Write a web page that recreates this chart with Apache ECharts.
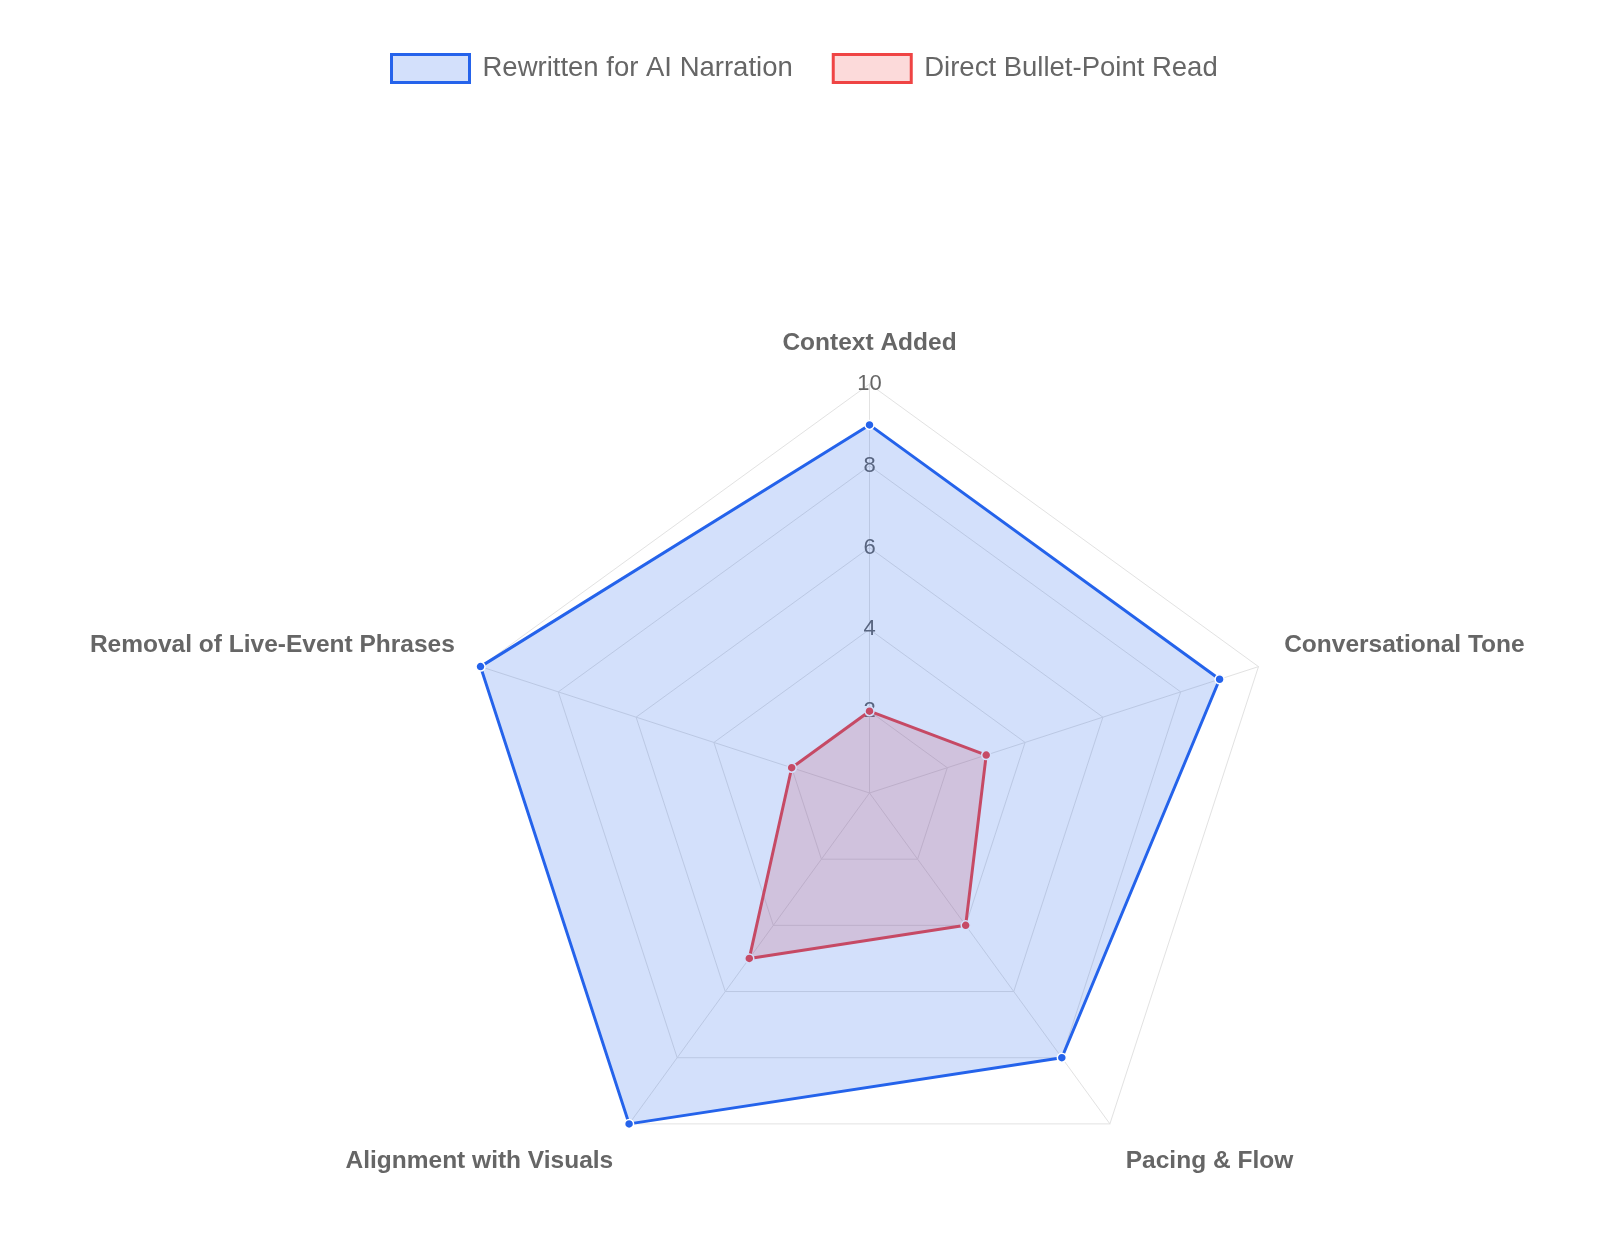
<!DOCTYPE html>
<html>
<head>
<meta charset="utf-8">
<script src="https://cdn.jsdelivr.net/npm/echarts@6/dist/echarts.min.js"></script>
<style>
html,body{margin:0;padding:0;background:#fff;}
#chart{width:1602px;height:1236px;}
</style>
</head>
<body>
<div id="chart"></div>
<script>
const categories = ['Context Added', 'Conversational Tone', 'Pacing & Flow', 'Alignment with Visuals', 'Removal of Live-Event Phrases'];
const rewrittenValues = [9, 9, 8, 10, 10];
const directValues = [2, 3, 4, 5, 2];
const seriesNames = ['Rewritten for AI Narration', 'Direct Bullet-Point Read'];
const axisMax = 10;
const tickInterval = 2;

const BLUE = '#2563eb', BLUE_FILL = 'rgba(37,99,235,0.2)';
const RED = '#ef4444', RED_FILL = 'rgba(239,68,68,0.2)';

// ECharts radar runs counter-clockwise; reorder so categories go clockwise from the top
const order = [0, 4, 3, 2, 1];
const labelShift = ['top', 'up', 'down', 'down', 'up'];
const FONT = 'Liberation Sans, Arial, sans-serif';
const NAME_SIZE = 24.5;

const chart = echarts.init(document.getElementById('chart'), null, {renderer: 'canvas'});
chart.setOption({
  backgroundColor: '#fff',
  animation: false,
  legend: {
    left: 390,
    top: 53,
    padding: 0,
    icon: 'rect',
    itemWidth: 78,
    itemHeight: 28,
    itemGap: 39,
    textStyle: {fontSize: 27.5, color: '#666', fontFamily: FONT, padding: [6, 0, 0, 8]},
    data: [
      {name: seriesNames[0], itemStyle: {color: BLUE_FILL, borderColor: BLUE, borderWidth: 3}},
      {name: seriesNames[1], itemStyle: {color: RED_FILL, borderColor: RED, borderWidth: 3}}
    ]
  },
  radar: {
    center: [869.5, 793],
    radius: 409,
    shape: 'polygon',
    splitNumber: axisMax / tickInterval,
    startAngle: 90,
    nameGap: 27,
    indicator: order.map(i => ({
      name: categories[i], min: 0, max: axisMax,
      nameGap: i === 0 ? 28 : 27,
      axisLabel: {show: i === 0}
    })),
    axisName: {
      color: '#666',
      fontSize: NAME_SIZE,
      fontWeight: 'bold',
      fontFamily: FONT,
      formatter: function (name) {
        const k = labelShift[categories.indexOf(name)];
        return '{' + k + '|' + name + '}';
      },
      rich: {
        top: {fontSize: NAME_SIZE, fontWeight: 'bold', color: '#666', fontFamily: FONT},
        up: {fontSize: NAME_SIZE, fontWeight: 'bold', color: '#666', fontFamily: FONT, padding: [0, 0, 26, 0]},
        down: {fontSize: NAME_SIZE, fontWeight: 'bold', color: '#666', fontFamily: FONT, padding: [32, 0, 0, 0]}
      }
    },
    axisLabel: {
      show: true,
      margin: 0,
      align: 'center',
      verticalAlign: 'middle',
      showMinLabel: false,
      fontSize: 22,
      color: '#666',
      fontFamily: FONT
    },
    axisLine: {show: true, lineStyle: {color: '#e2e2e2', width: 1}},
    splitLine: {show: true, lineStyle: {color: '#e2e2e2', width: 1}},
    splitArea: {show: false},
    axisTick: {show: false}
  },
  series: [
    {
      type: 'radar',
      name: seriesNames[1],
      z: 1,
      symbol: 'circle',
      symbolSize: 9,
      lineStyle: {color: RED, width: 3},
      itemStyle: {color: RED, borderColor: '#fff', borderWidth: 1.5},
      areaStyle: {color: RED_FILL, opacity: 1},
      data: [{value: order.map(i => directValues[i]), name: seriesNames[1]}]
    },
    {
      type: 'radar',
      name: seriesNames[0],
      z: 2,
      symbol: 'circle',
      symbolSize: 9,
      lineStyle: {color: BLUE, width: 3},
      itemStyle: {color: BLUE, borderColor: '#fff', borderWidth: 1.5},
      areaStyle: {color: BLUE_FILL, opacity: 1},
      data: [{value: order.map(i => rewrittenValues[i]), name: seriesNames[0]}]
    }
  ]
});
</script>
</body>
</html>
